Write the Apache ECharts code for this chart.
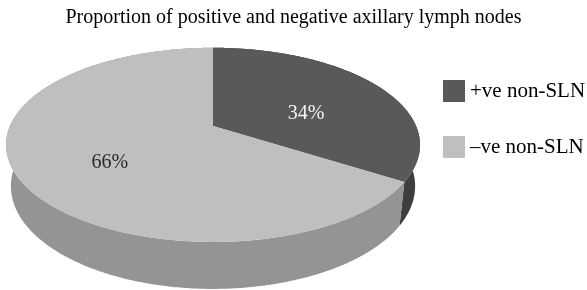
<!DOCTYPE html>
<html><head><meta charset="utf-8">
<script src="https://cdn.jsdelivr.net/npm/echarts@6/dist/echarts.min.js"></script>
<style>html,body{margin:0;padding:0;background:#fff}#c{width:587px;height:290px}</style>
</head><body><div id="c"></div>
<script>
const titleText = 'Proportion of positive and negative axillary lymph nodes';
const categories = ['+ve non-SLN', '–ve non-SLN'];
const values = [34, 66];

const topColors = ['#58595b', '#bfbfc0'];
const sideColors = ['#3e3e40', '#949497'];
const labelColors = ['#f4f4f4', '#2a2a2a'];

const FONT = 'Liberation Serif';
// perspective camera for the 3D pie
const VIEW = {cx: 213, cy: 126, f: 929, dist: 4.575, tilt: 27.4 * Math.PI / 180, depth: 0.231, labelR: 0.55, labelDy: 11};

const total = values.reduce((a, b) => a + b, 0);
const starts = values.map((v, i) => values.slice(0, i).reduce((a, b) => a + b, 0));

function project(theta, r, y) {
  const X = r * Math.sin(theta), Z = r * Math.cos(theta), Y = y;
  const ca = Math.cos(VIEW.tilt), sa = Math.sin(VIEW.tilt);
  const yc = Y * ca + Z * sa;
  const dc = VIEW.dist + Z * ca - Y * sa;
  return [VIEW.cx + VIEW.f * X / dc, VIEW.cy - VIEW.f * yc / dc];
}
function angles(api) {
  const s = api.value(0), v = api.value(1);
  return [s / total * 2 * Math.PI, (s + v) / total * 2 * Math.PI, v];
}
function arc(a0, a1, y) {
  const n = Math.max(2, Math.ceil((a1 - a0) / 0.01));
  const pts = [];
  for (let k = 0; k <= n; k++) pts.push(project(a0 + (a1 - a0) * k / n, 1, y));
  return pts;
}
function renderWall(params, api) {
  const [a0, a1] = angles(api);
  const top = arc(a0, a1, 0);
  const bot = arc(a0, a1, -VIEW.depth).reverse();
  return {type: 'polygon', shape: {points: top.concat(bot)}, style: {fill: api.visual('color')}};
}
function renderTop(i) {
  return function (params, api) {
    const [a0, a1, v] = angles(api);
    const pts = [project(0, 0, 0)].concat(arc(a0, a1, 0));
    const mid = (a0 + a1) / 2;
    const lp = project(mid, VIEW.labelR, 0);
    return {type: 'group', children: [
      {type: 'polygon', shape: {points: pts}, style: {fill: api.visual('color')}},
      {type: 'text', x: lp[0], y: lp[1] + VIEW.labelDy, style: {
        text: Math.round(v / total * 100) + '%', fill: labelColors[i],
        font: '20px "' + FONT + '"', align: 'center', verticalAlign: 'middle'}}
    ]};
  };
}

const series = [];
categories.forEach((name, i) => {
  series.push({type: 'custom', name: name, coordinateSystem: 'none', silent: true, z: 1,
    itemStyle: {color: sideColors[i]}, data: [[starts[i], values[i]]], renderItem: renderWall});
});
categories.forEach((name, i) => {
  series.push({type: 'custom', name: name, coordinateSystem: 'none', silent: true, z: 2,
    itemStyle: {color: topColors[i]}, data: [[starts[i], values[i]]], renderItem: renderTop(i)});
});

const chart = echarts.init(document.getElementById('c'), null, {renderer: 'canvas'});
chart.setOption({
  animation: false,
  backgroundColor: '#ffffff',
  title: {text: titleText, left: 'center', top: 3,
    textStyle: {fontFamily: FONT, fontSize: 20, fontWeight: 'normal', color: '#000'}},
  legend: {
    orient: 'vertical', left: 438, top: 75, itemWidth: 22, itemHeight: 22, itemGap: 34,
    icon: 'rect', selectedMode: false,
    data: categories.map((n, i) => ({name: n, itemStyle: {color: topColors[i]}})),
    textStyle: {fontFamily: FONT, fontSize: 21, color: '#000'}
  },
  series: series
});
</script></body></html>
